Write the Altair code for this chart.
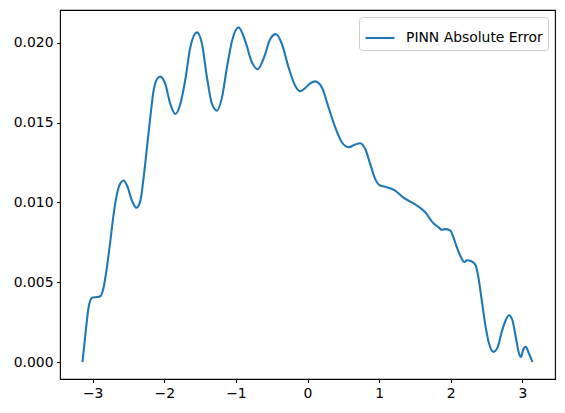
import altair as alt
import pandas as pd

x_vals = [-3.142, -3.10, -3.056, -3.008, -2.939, -2.893, -2.846, -2.799, -2.753, -2.706,
          -2.660, -2.613, -2.567, -2.520, -2.450, -2.390, -2.334, -2.288, -2.241, -2.195,
          -2.149, -2.101, -2.055, -1.986, -1.916, -1.846, -1.776, -1.706, -1.637, -1.543,
          -1.473, -1.404, -1.334, -1.264, -1.194, -1.125, -1.055, -0.963, -0.869, -0.776,
          -0.692, -0.614, -0.520, -0.441, -0.357, -0.265, -0.172, -0.102, -0.032, 0.038,
          0.107, 0.201, 0.293, 0.387, 0.480, 0.572, 0.666, 0.735, 0.805, 0.875,
          0.945, 1.014, 1.108, 1.224, 1.340, 1.433, 1.549, 1.642, 1.758, 1.828,
          1.875, 1.921, 1.991, 2.037, 2.084, 2.131, 2.191, 2.224, 2.294, 2.349,
          2.386, 2.433, 2.480, 2.535, 2.595, 2.657, 2.712, 2.768, 2.814, 2.861,
          2.908, 2.954, 2.982, 3.010, 3.047, 3.093, 3.142]
err_vals = [0.0000, 0.00179, 0.00346, 0.00404, 0.00408, 0.00413, 0.00470, 0.00600, 0.00760, 0.00930,
            0.01054, 0.01120, 0.01138, 0.01106, 0.01010, 0.00967, 0.01010, 0.01158, 0.01346, 0.01533,
            0.01700, 0.01773, 0.01788, 0.01742, 0.01617, 0.01554, 0.01617, 0.01770, 0.01970, 0.02065,
            0.01992, 0.01783, 0.01617, 0.01575, 0.01658, 0.01846, 0.02010, 0.02096, 0.02010, 0.01877,
            0.01835, 0.01900, 0.02023, 0.02054, 0.01992, 0.01846, 0.01731, 0.01696, 0.01717, 0.01746,
            0.01758, 0.01720, 0.01596, 0.01470, 0.01377, 0.01346, 0.01363, 0.01371, 0.01336, 0.01242,
            0.01148, 0.01106, 0.01096, 0.01075, 0.01030, 0.01006, 0.00975, 0.00940, 0.00870, 0.00846,
            0.00829, 0.00833, 0.00825, 0.00783, 0.00720, 0.00669, 0.00627, 0.00638, 0.00631, 0.00606,
            0.00533, 0.00388, 0.00242, 0.00117, 0.00065, 0.00096, 0.00190, 0.00263, 0.00294, 0.00263,
            0.00158, 0.00054, 0.00033, 0.00075, 0.00096, 0.00054, 0.0000]
series_name = "PINN Absolute Error"
x_ticks = [-3, -2, -1, 0, 1, 2, 3]
y_ticks = [0.0, 0.005, 0.010, 0.015, 0.020]

df = pd.DataFrame({"x": x_vals, "err": err_vals, "series": series_name})

font = "DejaVu Sans"

chart = alt.Chart(df).mark_line(strokeWidth=2.08, interpolate="monotone").encode(
    x=alt.X("x:Q", scale=alt.Scale(domain=[-3.456, 3.456], nice=False, zero=False),
            axis=alt.Axis(values=x_ticks, title=None, grid=False, domain=False,
                          labelExpr="replace(datum.label, '-', '\u2212')")),
    y=alt.Y("err:Q", scale=alt.Scale(domain=[-0.00105, 0.02205], nice=False, zero=False),
            axis=alt.Axis(values=y_ticks, format=".3f", title=None, grid=False, domain=False)),
    color=alt.Color("series:N",
                    scale=alt.Scale(domain=[series_name], range=["#1f77b4"]),
                    legend=alt.Legend(title=None, orient="top-right", offset=7,
                                      symbolType="stroke", symbolSize=841,
                                      symbolStrokeWidth=2.08, labelOffset=10,
                                      padding=5, fillColor="rgba(255,255,255,0.8)",
                                      strokeColor="#cccccc", cornerRadius=3,
                                      labelFont=font, labelFontSize=13.9,
                                      labelColor="black")),
).properties(
    width=495, height=369,
    autosize=alt.AutoSizeParams(type="none"),
    padding={"left": 52, "top": 2, "right": 2, "bottom": 20},
).configure_view(
    stroke="black", strokeWidth=1.1
).configure_axis(
    labelFont=font, labelFontSize=13.9, labelColor="black",
    tickColor="black", tickSize=3.5, tickWidth=1.1, labelPadding=3.5,
)

chart.save("out.html", embed_options={"renderer": "svg", "actions": False})
